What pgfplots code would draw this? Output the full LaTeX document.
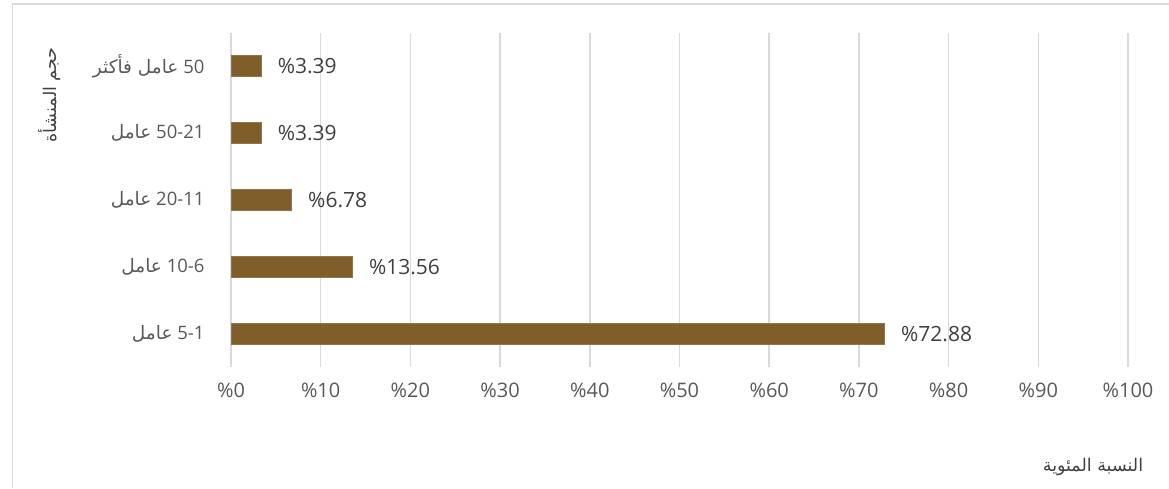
\documentclass[border=0pt]{standalone}
\usepackage{pgfplots}
\pgfplotsset{compat=1.18}
\usepackage{fontspec}
\setmainfont{Open Sans}
\newfontfamily\arabicfont[Script=Arabic]{DejaVu Sans}
\TeXXeTstate=1
\definecolor{barc}{RGB}{127,94,42}
\definecolor{gridc}{RGB}{217,217,217}
\definecolor{txt}{RGB}{89,89,89}
\definecolor{lab}{RGB}{64,64,64}
\newcommand{\ar}[1]{{\arabicfont\beginR #1\endR}}
\begin{document}
\begin{tikzpicture}
\path[use as bounding box, fill=white] (0pt,0pt) rectangle (1169pt,488pt);
\draw[gridc, line width=1.5pt] (12.5pt,0pt) -- (12.5pt,484pt) -- (1169pt,484pt);
\begin{axis}[at={(231pt,121pt)}, anchor=south west, scale only axis,
  width=897pt, height=334pt,
  xmin=0, xmax=100, ymin=-0.5, ymax=4.5,
  axis line style={draw=none},
  major tick length=0pt,
  xtick={0,10,...,100},
  xticklabels={\%0,\%10,\%20,\%30,\%40,\%50,\%60,\%70,\%80,\%90,\%100},
  ytick={0,1,2,3,4},
  yticklabels={{\ar{عامل} 5-1},{\ar{عامل} 10-6},{\ar{عامل} 20-11},{\ar{عامل} 50-21},{{\arabicfont\beginR عامل فأكثر\endR} 50}},
  xticklabel style={font=\fontsize{20}{24}\selectfont, text=txt, anchor=center, yshift=-23pt},
  yticklabel style={font=\fontsize{18.5}{22}\selectfont, text=txt, anchor=east, xshift=-23pt},
  xmajorgrids, major grid style={gridc, line width=1.5pt},
  xbar, bar width=21pt,
  point meta=explicit symbolic,
  nodes near coords={\%\pgfplotspointmeta},
  nodes near coords style={font=\fontsize{21}{25}\selectfont, text=lab, anchor=west, inner sep=0pt, xshift=16pt},
  clip=false]
\addplot[fill=barc, draw=barc!85!white, line width=0.8pt] coordinates {
  (72.88,0) [72.88]
  (13.56,1) [13.56]
  (6.78,2) [6.78]
  (3.39,3) [3.39]
  (3.39,4) [3.39]
};
\end{axis}
\node[rotate=90, text=lab, font=\fontsize{17.5}{20}\selectfont] at (50pt,393pt) {\ar{حجم المنشأة}};
\node[text=lab, font=\fontsize{17.5}{20}\selectfont] at (1093pt,21pt) {\ar{النسبة المئوية}};
\end{tikzpicture}
\end{document}
